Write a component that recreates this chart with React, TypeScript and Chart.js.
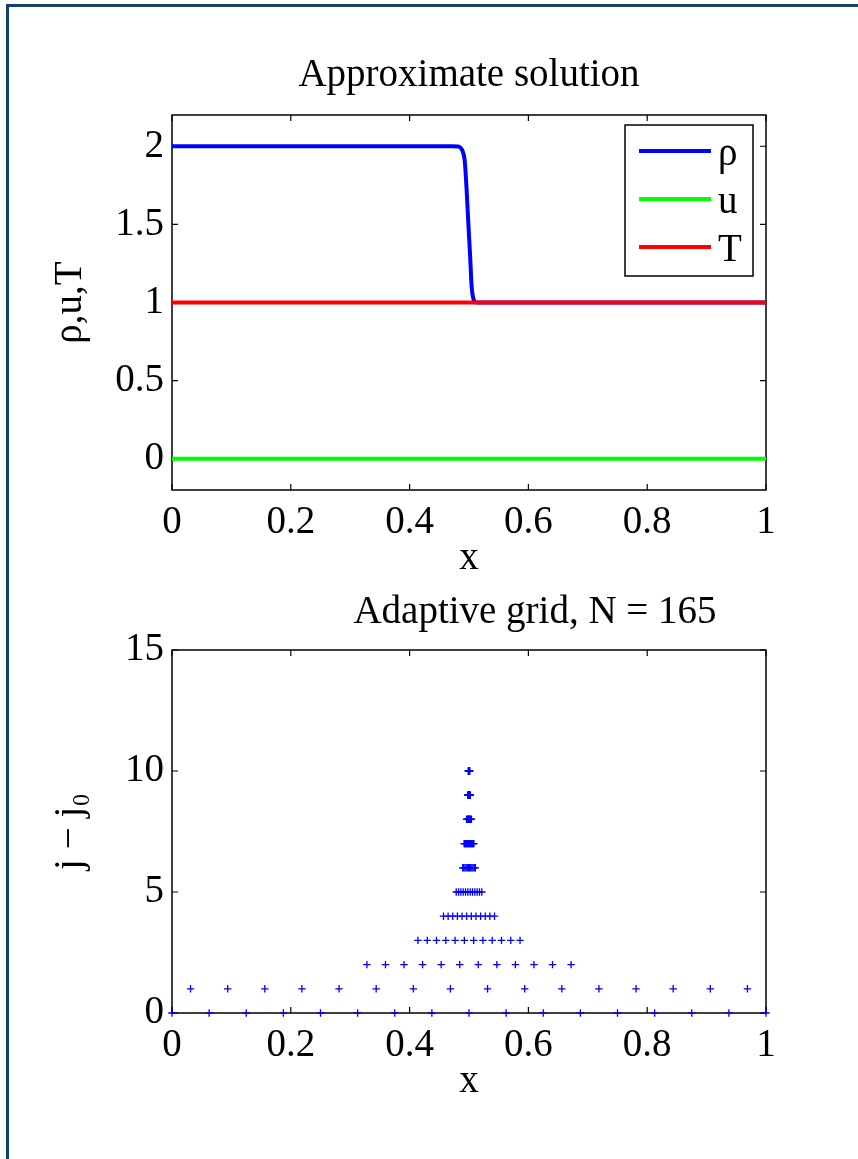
import React, { useEffect, useRef } from "react";
import { Chart, registerables } from "chart.js";
Chart.register(...registerables);

const FONT = '"Liberation Serif", "Times New Roman", serif';
const FS = 39;

// ---------- Top chart data ----------
const rhoX = [0, 0.47, 0.482, 0.487, 0.49, 0.493, 0.496, 0.499, 0.502, 0.5045, 0.507, 0.51, 0.513, 0.52, 1];
const rhoY = [2, 2, 1.998, 1.985, 1.96, 1.9, 1.72, 1.5, 1.29, 1.1, 1.03, 1.005, 1.0, 1, 1];
const uX = [0, 1];
const uY = [0, 0];
const TX = [0, 1];
const TY = [1, 1];
const seriesLabels = ["ρ", "u", "T"];
const seriesColors = ["#0000ff", "#00ff00", "#ff0000"];
const xTicks = [0, 0.2, 0.4, 0.6, 0.8, 1];
const xTickLabels = ["0", "0.2", "0.4", "0.6", "0.8", "1"];
const topYTicks = [0, 0.5, 1, 1.5, 2];
const topYTickLabels = ["0", "0.5", "1", "1.5", "2"];
const topTitle = "Approximate solution";
const topYTitle = "ρ,u,T";
const xTitle = "x";

// ---------- Bottom chart data (grid points per level) ----------
const level0X = [0, 0.0625, 0.125, 0.1875, 0.25, 0.3125, 0.375, 0.4375, 0.5, 0.5625, 0.625, 0.6875, 0.75, 0.8125, 0.875, 0.9375, 1];
const level1X = [0.03125, 0.09375, 0.15625, 0.21875, 0.28125, 0.34375, 0.40625, 0.46875, 0.53125, 0.59375, 0.65625, 0.71875, 0.78125, 0.84375, 0.90625, 0.96875];
const level2X = [0.328125, 0.359375, 0.390625, 0.421875, 0.453125, 0.484375, 0.515625, 0.546875, 0.578125, 0.609375, 0.640625, 0.671875];
const level3X = [0.4140625, 0.4296875, 0.4453125, 0.4609375, 0.4765625, 0.4921875, 0.5078125, 0.5234375, 0.5390625, 0.5546875, 0.5703125, 0.5859375];
const level4X = [0.45703, 0.46484, 0.47266, 0.48047, 0.48828, 0.49609, 0.50391, 0.51172, 0.51953, 0.52734, 0.53516, 0.54297];
const level5X = [0.4785, 0.4824, 0.4863, 0.4902, 0.4941, 0.498, 0.502, 0.5059, 0.5098, 0.5137, 0.5176, 0.5215];
const level6X = [0.4893, 0.4912, 0.4932, 0.4951, 0.4971, 0.499, 0.501, 0.5029, 0.5049, 0.5068, 0.5088, 0.5107];
const level7X = [0.4917, 0.49268, 0.49365, 0.49463, 0.49561, 0.49658, 0.49756, 0.49854, 0.49951, 0.50049, 0.50146, 0.50244, 0.50342, 0.50439, 0.50537, 0.50635, 0.50732, 0.5083];
const level8X = [0.49585, 0.49634, 0.49683, 0.49731, 0.4978, 0.49829, 0.49878, 0.49927, 0.49976, 0.50024, 0.50073, 0.50122, 0.50171, 0.5022, 0.50269, 0.50317, 0.50366, 0.50415];
const level9X = [0.49792, 0.49817, 0.49841, 0.49866, 0.4989, 0.49915, 0.49939, 0.49963, 0.49988, 0.50012, 0.50037, 0.50061, 0.50085, 0.5011, 0.50134, 0.50159, 0.50183, 0.50208];
const level10X = [0.49896, 0.49908, 0.49921, 0.49933, 0.49945, 0.49957, 0.49969, 0.49982, 0.49994, 0.50006, 0.50018, 0.50031, 0.50043, 0.50055, 0.50067, 0.50079, 0.50092, 0.50104];
const levelValues = [0, 1, 2, 3, 4, 5, 6, 7, 8, 9, 10];
const levelXs = [level0X, level1X, level2X, level3X, level4X, level5X, level6X, level7X, level8X, level9X, level10X];
const bottomYTicks = [0, 5, 10, 15];
const bottomYTickLabels = ["0", "5", "10", "15"];
const bottomTitle = "Adaptive grid, N = 165";
const bottomYTitle = "j − j₀";
const gridLabel = "grid points";
const gridColor = "#0000ff";

// ---------- plugins ----------
const framePlugin = {
  id: "frame",
  beforeDatasetsDraw(chart: any) {
    const { ctx, chartArea: a, scales } = chart;
    ctx.save();
    ctx.strokeStyle = "#000";
    ctx.lineWidth = 1.5;
    ctx.strokeRect(a.left, a.top, a.right - a.left, a.bottom - a.top);
    const L = 6;
    ctx.beginPath();
    scales.x.ticks.forEach((t: any) => {
      const p = scales.x.getPixelForValue(t.value);
      ctx.moveTo(p, a.bottom);
      ctx.lineTo(p, a.bottom - L);
      ctx.moveTo(p, a.top);
      ctx.lineTo(p, a.top + L);
    });
    scales.y.ticks.forEach((t: any) => {
      const p = scales.y.getPixelForValue(t.value);
      ctx.moveTo(a.left, p);
      ctx.lineTo(a.left + L, p);
      ctx.moveTo(a.right, p);
      ctx.lineTo(a.right - L, p);
    });
    ctx.lineWidth = 1.2;
    ctx.stroke();
    ctx.restore();
  },
};

const boxLegendPlugin = {
  id: "boxLegend",
  afterDatasetsDraw(chart: any) {
    const { ctx, chartArea: a } = chart;
    const bw = 128, bh = 151;
    const bx = a.right - 13 - bw;
    const by = a.top + 10;
    ctx.save();
    ctx.fillStyle = "#fff";
    ctx.fillRect(bx, by, bw, bh);
    ctx.strokeStyle = "#000";
    ctx.lineWidth = 1.5;
    ctx.strokeRect(bx, by, bw, bh);
    chart.data.datasets.forEach((ds: any, i: number) => {
      const y = by + 26 + i * 48;
      ctx.strokeStyle = ds.borderColor;
      ctx.lineWidth = 4;
      ctx.beginPath();
      ctx.moveTo(bx + 14, y);
      ctx.lineTo(bx + 86, y);
      ctx.stroke();
      ctx.fillStyle = "#000";
      ctx.font = `${FS}px ${FONT}`;
      ctx.textBaseline = "alphabetic";
      ctx.textAlign = "left";
      ctx.fillText(ds.label, bx + 93, y + 14);
    });
    ctx.restore();
  },
};

const shiftTitlePlugin = (dx: number) => ({
  id: "shiftTitle",
  afterLayout(chart: any) {
    const t = chart.titleBlock;
    if (t) {
      t.left += dx;
      t.right += dx;
    }
  },
});

function fixedTicks(values: number[]) {
  return (scale: any) => {
    scale.ticks = values.map((v) => ({ value: v }));
  };
}

function makeScales(yMin: number, yMax: number, yTicks: number[], yLabels: string[], yTitle: string) {
  return {
    x: {
      type: "linear",
      min: 0,
      max: 1,
      afterBuildTicks: fixedTicks(xTicks),
      afterFit: (s: any) => { s.height = 92; },
      grid: { display: false, drawTicks: false },
      border: { display: false },
      ticks: {
        padding: 9.6,
        color: "#000",
        maxRotation: 0,
        autoSkip: false,
        font: { family: FONT, size: FS },
        callback: (_v: any, i: number) => xTickLabels[i],
      },
      title: {
        display: true,
        text: xTitle,
        color: "#000",
        padding: { top: 0, bottom: 0 },
        font: { family: FONT, size: FS },
      },
    },
    y: {
      type: "linear",
      min: yMin,
      max: yMax,
      afterBuildTicks: fixedTicks(yTicks),
      afterFit: (s: any) => { s.width = 172; },
      grid: { display: false, drawTicks: false },
      border: { display: false },
      ticks: {
        padding: 8,
        color: "#000",
        autoSkip: false,
        font: { family: FONT, size: FS },
        callback: (_v: any, i: number) => yLabels[i],
      },
      title: {
        display: true,
        text: yTitle,
        color: "#000",
        padding: { top: 47.7, bottom: 0 },
        font: { family: FONT, size: FS },
      },
    },
  };
}

function topConfig(): any {
  const mk = (xs: number[], ys: number[]) => xs.map((x, i) => ({ x, y: ys[i] }));
  return {
    type: "line",
    data: {
      datasets: [
        { label: seriesLabels[0], data: mk(rhoX, rhoY), borderColor: seriesColors[0], backgroundColor: seriesColors[0], borderWidth: 4, pointRadius: 0, cubicInterpolationMode: "monotone", order: 2 },
        { label: seriesLabels[1], data: mk(uX, uY), borderColor: seriesColors[1], backgroundColor: seriesColors[1], borderWidth: 4, pointRadius: 0, order: 1 },
        { label: seriesLabels[2], data: mk(TX, TY), borderColor: seriesColors[2], backgroundColor: seriesColors[2], borderWidth: 4, pointRadius: 0, order: 0 },
      ],
    },
    options: {
      responsive: false,
      animation: false,
      devicePixelRatio: 1,
      events: [],
      layout: { padding: { left: 0, right: 92, top: 0, bottom: 3 } },
      scales: makeScales(-0.2, 2.2, topYTicks, topYTickLabels, topYTitle),
      plugins: {
        legend: { display: false },
        tooltip: { enabled: false },
        title: {
          display: true,
          text: topTitle,
          color: "#000",
          fullSize: false,
          padding: { top: 52.4, bottom: 15.8 },
          font: { family: FONT, size: FS, weight: "normal" },
        },
      },
    },
    plugins: [framePlugin, boxLegendPlugin],
  };
}

function bottomConfig(): any {
  const pts: { x: number; y: number }[] = [];
  levelXs.forEach((xs, i) => xs.forEach((x) => pts.push({ x, y: levelValues[i] })));
  return {
    type: "scatter",
    data: {
      datasets: [
        {
          label: gridLabel,
          data: pts,
          pointStyle: "cross",
          pointRadius: 3.7,
          pointBorderWidth: 1.3,
          borderColor: gridColor,
          backgroundColor: gridColor,
          showLine: false,
          clip: false,
        },
      ],
    },
    options: {
      responsive: false,
      animation: false,
      devicePixelRatio: 1,
      events: [],
      layout: { padding: { left: 0, right: 92, top: 0, bottom: 54 } },
      scales: makeScales(0, 15, bottomYTicks, bottomYTickLabels, bottomYTitle),
      plugins: {
        legend: { display: false },
        tooltip: { enabled: false },
        title: {
          display: true,
          text: bottomTitle,
          color: "#000",
          fullSize: false,
          padding: { top: 4.4, bottom: 13.8 },
          font: { family: FONT, size: FS, weight: "normal" },
        },
      },
    },
    plugins: [framePlugin, shiftTitlePlugin(66)],
  };
}

function ChartCanvas({ make, width, height, top }: { make: () => any; width: number; height: number; top: number }) {
  const ref = useRef<HTMLCanvasElement | null>(null);
  useEffect(() => {
    if (!ref.current) return;
    const chart = new Chart(ref.current, make());
    return () => chart.destroy();
  }, []);
  return (
    <canvas
      ref={ref}
      width={width}
      height={height}
      style={{ position: "absolute", left: 0, top, width, height }}
    />
  );
}

export default function App() {
  return (
    <div style={{ position: "absolute", left: 0, top: 0, width: 858, height: 1159, background: "#fff", overflow: "hidden" }}>
      <div
        style={{
          position: "absolute",
          left: 6,
          top: 4,
          right: -10,
          bottom: -10,
          borderTop: "3px solid #13406f",
          borderLeft: "3px solid #13406f",
        }}
      />
      <ChartCanvas make={topConfig} width={858} height={585} top={0} />
      <ChartCanvas make={bottomConfig} width={858} height={574} top={585} />
    </div>
  );
}
